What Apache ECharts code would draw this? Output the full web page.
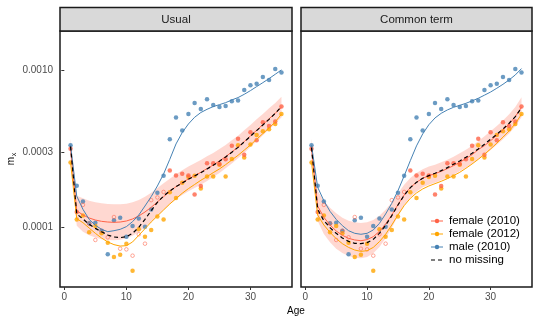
<!DOCTYPE html>
<html>
<head>
<meta charset="utf-8">
<script src="https://cdn.jsdelivr.net/npm/echarts@6/dist/echarts.min.js"></script>
<style>
html, body { margin: 0; padding: 0; background: #fff; }
#chart { width: 540px; height: 324px; }
</style>
</head>
<body>
<div id="chart"></div>
<script>
// ages on the x axis
var ages = [1, 2, 3, 4, 5, 6, 7, 8, 9, 10, 11, 12, 13, 14, 15, 16, 17, 18, 19, 20,
            21, 22, 23, 24, 25, 26, 27, 28, 29, 30, 31, 32, 33, 34, 35];

// observed rates, per 10 000
var male2010 = [3.33, 1.84, 1.46, 1.06, 1.07, 0.95, 0.673, 1.11, 1.15, 0.872,
                1.02, 1.14, 1.01, 1.30, 1.66, 2.13, 3.64, 5.00, 4.13, 5.27,
                6.19, 5.67, 6.54, 6.01, 5.84, 5.93, 6.35, 6.41, 7.49, 8.03,
                8.22, 9.07, 8.68, 10.2, 9.66];
var female2010 = [3.17, 1.25, 1.39, 1.055, 0.831, 0.948, 0.864, 1.163, 0.731, 0.724,
                  0.660, 0.903, 0.787, 1.49, 1.55, 1.68, 2.30, 2.14, 2.19, 2.14,
                  1.62, 1.83, 2.56, 2.56, 2.53, 2.71, 3.31, 3.67, 2.90, 4.03,
                  3.58, 4.66, 4.42, 4.71, 5.87];
// ages where female (2010) is treated as missing (open circles)
var missing2010 = [3, 4, 5, 6, 7, 8, 9, 10, 11, 12, 13, 14, 15, 16];
var female2012 = [2.59, 1.12, 1.19, 0.929, 1.02, 0.916, 0.799, 0.648, 0.668, 0.787,
                  0.530, 0.971, 0.872, 0.962, 1.17, 1.12, 1.67, 1.54, 1.92, 2.09,
                  2.13, 1.77, 2.11, 2.11, 2.50, 2.11, 2.72, 3.33, 2.78, 3.37,
                  3.87, 4.09, 4.21, 4.55, 5.27];

// fitted curves, panel "Usual" (per 10 000)
var usualMale = [3.33, 1.58, 1.302, 1.124, 1.030, 0.971, 0.938, 0.952, 0.971, 1.010,
                 1.087, 1.198, 1.367, 1.568, 1.833, 2.186, 2.710, 3.395, 4.01, 4.55,
                 5.02, 5.38, 5.64, 5.87, 6.04, 6.22, 6.47, 6.70, 7.03, 7.42,
                 7.87, 8.34, 8.85, 9.43, 10.05];
var usualF2010 = [3.17, 1.277, 1.198, 1.147, 1.113, 1.092, 1.081, 1.076, 1.081, 1.097,
                  1.130, 1.181, 1.252, 1.341, 1.450, 1.568, 1.695, 1.816, 1.925, 2.032,
                  2.134, 2.240, 2.365, 2.495, 2.645, 2.818, 3.019, 3.25, 3.51, 3.82,
                  4.15, 4.51, 4.91, 5.32, 5.81];
var usualF2012 = [2.594, 1.136, 1.071, 0.990, 0.916, 0.855, 0.807, 0.776, 0.760, 0.764,
                  0.807, 0.890, 0.980, 1.081, 1.181, 1.290, 1.408, 1.523, 1.647, 1.763,
                  1.874, 1.993, 2.102, 2.229, 2.353, 2.507, 2.684, 2.874, 3.10, 3.345,
                  3.636, 3.95, 4.29, 4.69, 5.25];
var usualNoMissing = [3.27, 1.216, 1.130, 1.045, 0.985, 0.938, 0.894, 0.868, 0.860, 0.872,
                      0.916, 1.000, 1.124, 1.277, 1.443, 1.583, 1.703, 1.816, 1.916, 2.022,
                      2.123, 2.229, 2.353, 2.483, 2.632, 2.805, 3.005, 3.23, 3.50, 3.80,
                      4.13, 4.48, 4.87, 5.32, 5.87];
var usualLower = [2.737, 1.025, 0.938, 0.890, 0.860, 0.839, 0.831, 0.827, 0.835, 0.851,
                  0.885, 0.934, 1.000, 1.081, 1.181, 1.290, 1.408, 1.515, 1.607, 1.695,
                  1.781, 1.869, 1.973, 2.092, 2.219, 2.376, 2.545, 2.750, 2.975, 3.25,
                  3.53, 3.85, 4.19, 4.58, 4.995];
var usualUpper = [3.67, 1.59, 1.530, 1.479, 1.443, 1.422, 1.408, 1.401, 1.401, 1.415,
                  1.443, 1.493, 1.568, 1.663, 1.781, 1.907, 2.042, 2.176, 2.307, 2.435,
                  2.557, 2.684, 2.832, 2.975, 3.155, 3.345, 3.58, 3.83, 4.15, 4.48,
                  4.87, 5.27, 5.73, 6.19, 6.77];

// fitted curves, panel "Common term" (per 10 000)
var commonMale = [3.33, 1.798, 1.479, 1.264, 1.124, 1.025, 0.952, 0.916, 0.903, 0.916,
                  0.962, 1.060, 1.216, 1.422, 1.712, 2.123, 2.658, 3.30, 3.93, 4.50,
                  4.97, 5.32, 5.59, 5.81, 5.98, 6.16, 6.38, 6.63, 6.94, 7.27,
                  7.68, 8.14, 8.68, 9.34, 10.25];
var commonF2010 = [3.17, 1.367, 1.158, 1.035, 0.948, 0.890, 0.851, 0.831, 0.822, 0.835,
                   0.872, 0.943, 1.050, 1.198, 1.394, 1.607, 1.790, 1.935, 2.052, 2.134,
                   2.197, 2.273, 2.365, 2.471, 2.594, 2.737, 2.903, 3.124, 3.31, 3.56,
                   3.85, 4.17, 4.55, 5.07, 5.81];
var commonF2012 = [2.594, 1.198, 1.035, 0.929, 0.847, 0.787, 0.745, 0.717, 0.703, 0.710,
                   0.745, 0.811, 0.903, 1.035, 1.198, 1.374, 1.530, 1.655, 1.755, 1.833,
                   1.897, 1.964, 2.042, 2.134, 2.240, 2.376, 2.532, 2.710, 2.917, 3.155,
                   3.43, 3.75, 4.11, 4.58, 5.25];
var commonNoMissing = [3.217, 1.302, 1.103, 0.995, 0.916, 0.855, 0.814, 0.791, 0.787, 0.799,
                       0.839, 0.916, 1.030, 1.186, 1.388, 1.599, 1.790, 1.935, 2.052, 2.134,
                       2.208, 2.296, 2.399, 2.520, 2.645, 2.791, 2.961, 3.155, 3.38, 3.636,
                       3.91, 4.23, 4.60, 5.07, 5.76];
var commonLower = [2.737, 1.097, 0.907, 0.803, 0.731, 0.686, 0.657, 0.641, 0.635, 0.647,
                   0.683, 0.750, 0.851, 0.995, 1.181, 1.381, 1.553, 1.687, 1.798, 1.869,
                   1.925, 1.993, 2.072, 2.165, 2.273, 2.399, 2.545, 2.710, 2.889, 3.109,
                   3.36, 3.636, 3.95, 4.40, 5.02];
var commonUpper = [3.67, 1.703, 1.479, 1.334, 1.228, 1.152, 1.103, 1.076, 1.066, 1.076,
                   1.113, 1.186, 1.296, 1.443, 1.647, 1.869, 2.062, 2.219, 2.341, 2.435,
                   2.507, 2.594, 2.697, 2.818, 2.961, 3.124, 3.31, 3.53, 3.80, 4.09,
                   4.42, 4.79, 5.25, 5.84, 6.73];

// axis ticks
var xTicks = [0, 10, 20, 30];
var yTicks = [0.0001, 0.0003, 0.0010];
var panelTitles = ['Usual', 'Common term'];

var FONT = '"Liberation Sans", Arial, sans-serif';
var RED = '#FF6347', ORANGE = '#FFA500', BLUE = '#4682B4';

function mx(arr) { return arr.map(function (v) { return v / 1e4; }); }
function pts(xs, ys) { return xs.map(function (x, i) { return [x, ys[i]]; }); }
function isMissing(a) { return missing2010.indexOf(a) >= 0; }

function panelSeries(idx, fit) {
  var lo = mx(fit.lower), up = mx(fit.upper);
  var f10 = mx(female2010);
  var list = [];
  // confidence band around female (2010)
  list.push({
    type: 'custom', xAxisIndex: idx, yAxisIndex: idx, silent: true,
    data: [[ages[0], lo[0]]],
    renderItem: function (params, api) {
      var top = ages.map(function (a, i) { return api.coord([a, up[i]]); });
      var bot = ages.map(function (a, i) { return api.coord([a, lo[i]]); }).reverse();
      return { type: 'polygon', shape: { points: top.concat(bot) },
               style: { fill: 'rgba(255,99,71,0.25)' } };
    }
  });
  // points
  var scat = function (name, data, color, empty) {
    return {
      name: name, type: 'scatter', xAxisIndex: idx, yAxisIndex: idx, silent: true,
      symbol: 'circle', symbolSize: empty ? 3.6 : 4.5,
      itemStyle: empty ? { color: 'rgba(255,255,255,0)', borderColor: RED, borderWidth: 0.7 }
                       : { color: color },
      data: data
    };
  };
  list.push(scat('male pts', pts(ages, mx(male2010)), BLUE));
  list.push(scat('f2012 pts', pts(ages, mx(female2012)), ORANGE));
  list.push(scat('f2010 pts', pts(ages, f10).filter(function (p) { return !isMissing(p[0]); }), RED));
  list.push(scat('f2010 missing', pts(ages, f10).filter(function (p) { return isMissing(p[0]); }), RED, true));
  // fitted lines
  var line = function (name, ys, color, dashed) {
    return {
      name: name, type: 'line', xAxisIndex: idx, yAxisIndex: idx, silent: true,
      symbol: 'none', showSymbol: false,
      lineStyle: { color: color, width: dashed ? 1.2 : 1, type: dashed ? [4, 3] : 'solid' },
      data: pts(ages, mx(ys))
    };
  };
  list.push(line('female (2010)', fit.f2010, RED));
  list.push(line('female (2012)', fit.f2012, ORANGE));
  list.push(line('male (2010)', fit.male, BLUE));
  list.push(line('no missing', fit.noMissing, '#000', true));
  return list;
}

var grids = [
  { left: 60, top: 31, width: 232, height: 256 },
  { left: 301, top: 31, width: 231, height: 256 }
];

var option = {
  animation: false,
  backgroundColor: '#fff',
  textStyle: { fontFamily: FONT },
  grid: grids.map(function (g) {
    return { left: g.left, top: g.top, width: g.width, height: g.height, show: true,
             backgroundColor: '#fff', borderColor: '#1a1a1a', borderWidth: 1.5 };
  }),
  xAxis: [0, 1].map(function (i) {
    return {
      type: 'value', gridIndex: i, min: -0.7, max: 36.7,
      axisLine: { show: false }, splitLine: { show: false },
      axisTick: { show: true, length: 3, customValues: xTicks, lineStyle: { color: '#333' } },
      axisLabel: { customValues: xTicks, color: '#4d4d4d', fontSize: 10, margin: 5, fontFamily: FONT }
    };
  }),
  yAxis: [0, 1].map(function (i) {
    return {
      type: 'log', logBase: 10, gridIndex: i, min: 4.17e-5, max: 1.778e-3,
      axisLine: { show: false }, splitLine: { show: false }, minorTick: { show: false },
      axisTick: { show: i === 0, length: 3, customValues: yTicks, lineStyle: { color: '#333' } },
      axisLabel: { show: i === 0, customValues: yTicks, color: '#4d4d4d', fontSize: 10, margin: 7,
                   fontFamily: FONT, formatter: function (v) { return Number(v).toFixed(4); } }
    };
  }),
  series: [].concat(
    panelSeries(0, { male: usualMale, f2010: usualF2010, f2012: usualF2012,
                     noMissing: usualNoMissing, lower: usualLower, upper: usualUpper }),
    panelSeries(1, { male: commonMale, f2010: commonF2010, f2012: commonF2012,
                     noMissing: commonNoMissing, lower: commonLower, upper: commonUpper })
  ),
  graphic: []
};

// facet strips
grids.forEach(function (g, i) {
  option.graphic.push({
    type: 'rect', silent: true,
    shape: { x: g.left, y: 7.5, width: g.width, height: 23.5 },
    style: { fill: '#D9D9D9', stroke: '#1a1a1a', lineWidth: 1.5 }
  });
  option.graphic.push({
    type: 'text', silent: true, x: g.left + g.width / 2, y: 19.5,
    style: { text: panelTitles[i], fill: '#1a1a1a', font: '11.5px ' + FONT,
             textAlign: 'center', textVerticalAlign: 'middle' }
  });
});

// axis titles
option.graphic.push({
  type: 'text', silent: true, x: 296, y: 311,
  style: { text: 'Age', fill: '#000', font: '10px ' + FONT, textAlign: 'center', textVerticalAlign: 'middle' }
});
option.graphic.push({
  type: 'group', x: 11, y: 159, rotation: Math.PI / 2, silent: true,
  children: [
    { type: 'text', x: -2, y: 0, style: { text: 'm', fill: '#000', font: '10px ' + FONT,
      textAlign: 'center', textVerticalAlign: 'middle' } },
    { type: 'text', x: 4.5, y: 3, style: { text: 'x', fill: '#000', font: '7px ' + FONT,
      textAlign: 'center', textVerticalAlign: 'middle' } }
  ]
});

// legend
var legendItems = [
  { name: 'female (2010)', color: RED, dot: true },
  { name: 'female (2012)', color: ORANGE, dot: true },
  { name: 'male (2010)', color: BLUE, dot: true },
  { name: 'no missing', color: '#000', dot: false }
];
legendItems.forEach(function (it, i) {
  var y = 221 + 13 * i;
  option.graphic.push({
    type: 'line', silent: true,
    shape: { x1: 431, y1: y, x2: 443, y2: y },
    style: { stroke: it.color, lineWidth: it.dot ? 1 : 1.2, lineDash: it.dot ? null : [4, 3] }
  });
  if (it.dot) {
    option.graphic.push({
      type: 'circle', silent: true, shape: { cx: 437, cy: y, r: 2.2 }, style: { fill: it.color }
    });
  }
  option.graphic.push({
    type: 'text', silent: true, x: 449, y: y,
    style: { text: it.name, fill: '#000', font: '11.5px ' + FONT, textAlign: 'left', textVerticalAlign: 'middle' }
  });
});

var chart = echarts.init(document.getElementById('chart'), null, { renderer: 'canvas', width: 540, height: 324 });
chart.setOption(option);
</script>
</body>
</html>
